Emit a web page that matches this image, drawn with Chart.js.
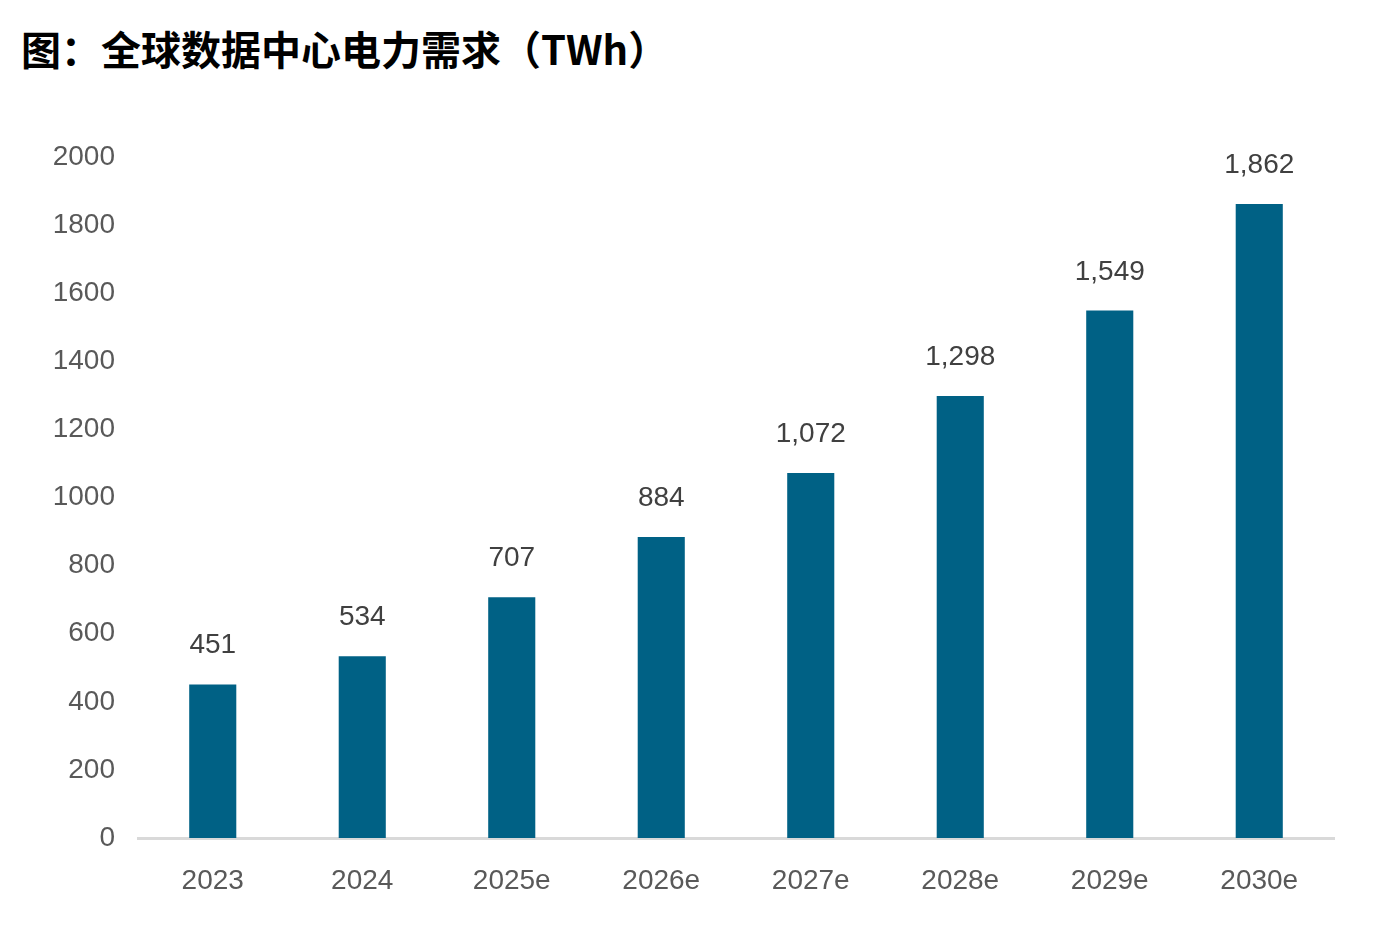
<!DOCTYPE html>
<html>
<head>
<meta charset="utf-8">
<script src="https://cdn.jsdelivr.net/npm/chart.js@4"></script>
<style>
html,body{margin:0;padding:0;background:#fff;}
#wrap{position:relative;width:1398px;height:946px;}
#title{position:absolute;left:21px;top:22px;font-family:"Noto Sans CJK SC",sans-serif;font-weight:bold;font-size:40px;line-height:52px;color:#000;white-space:nowrap;}
canvas{position:absolute;left:0;top:0;}
</style>
</head>
<body>
<div id="wrap">
<div id="title">图：全球数据中心电力需求（TWh）</div>
<canvas id="c" width="1398" height="946"></canvas>
</div>
<script>
const categories = ["2023","2024","2025e","2026e","2027e","2028e","2029e","2030e"];
const demandTWh = [451,534,707,884,1072,1298,1549,1862];
const yTicks = [0,200,400,600,800,1000,1200,1400,1600,1800,2000];

const FONT = '"Liberation Sans", Arial, sans-serif';

const valueLabels = {
  id:'valueLabels',
  afterDatasetsDraw(chart){
    const ctx = chart.ctx;
    const meta = chart.getDatasetMeta(0);
    ctx.save();
    ctx.font = '28px ' + FONT;
    ctx.fillStyle = '#404040';
    ctx.textAlign = 'center';
    ctx.textBaseline = 'alphabetic';
    meta.data.forEach((bar,i)=>{
      ctx.fillText(demandTWh[i].toLocaleString('en-US'), bar.x, bar.y - 31);
    });
    ctx.restore();
  }
};

new Chart(document.getElementById('c'), {
  type:'bar',
  data:{
    labels:categories,
    datasets:[{
      data:demandTWh,
      backgroundColor:'#006185',
      borderWidth:0,
      barPercentage:0.63,
      categoryPercentage:0.5
    }]
  },
  options:{
    responsive:false,
    animation:false,
    devicePixelRatio:1,
    layout:{padding:{top:157,right:64,left:0,bottom:0}},
    plugins:{legend:{display:false},tooltip:{enabled:false},title:{display:false}},
    scales:{
      x:{
        grid:{display:false,drawTicks:false},
        border:{display:true,color:'#d9d9d9',width:3},
        ticks:{color:'#595959',font:{family:FONT,size:28},padding:26,maxRotation:0},
        afterFit(s){s.height = 108;}
      },
      y:{
        min:0,max:2000,
        grid:{display:false,drawTicks:false},
        border:{display:false},
        afterBuildTicks(s){s.ticks = yTicks.map(v=>({value:v}));},
        ticks:{color:'#595959',font:{family:FONT,size:28},padding:23,callback:(v)=>String(v)},
        afterFit(s){s.width = 138;}
      }
    }
  },
  plugins:[valueLabels]
});
</script>
</body>
</html>
